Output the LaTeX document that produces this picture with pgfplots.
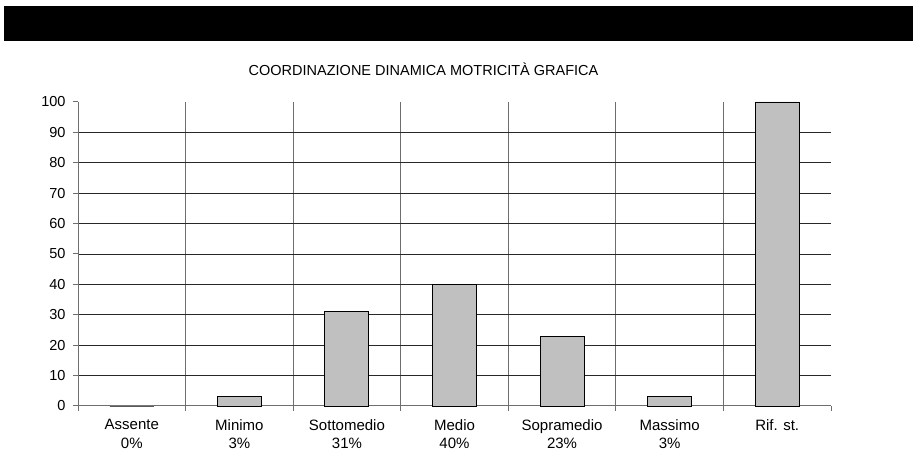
\documentclass[border=0pt]{standalone}
\usepackage{fontspec}
\setmainfont{Liberation Sans}
\usepackage{pgfplots}
\pgfplotsset{compat=1.18}
\definecolor{barfill}{RGB}{192,192,192}
\definecolor{vgrid}{RGB}{110,110,110}
\definecolor{hgrid}{RGB}{40,40,40}
\begin{document}
\begin{tikzpicture}[x=1pt,y=1pt]
\useasboundingbox (0,0) rectangle (913,454);
\fill[black] (4,413) rectangle (913,448);
\node[font=\fontsize{14.5}{17}\selectfont] at (423.5,385) {COORDINAZIONE DINAMICA MOTRICITÀ GRAFICA};
\begin{axis}[
  at={(78pt,48pt)}, anchor=south west,
  scale only axis, width=753pt, height=304pt,
  xmin=-0.5, xmax=6.5, ymin=0, ymax=100,
  axis x line=bottom, axis y line=left,
  axis line style={-, line width=1pt, vgrid},
  tick align=outside, major tick length=5pt,
  tick style={line width=1pt, vgrid},
  xtick={-0.5,0.5,1.5,2.5,3.5,4.5,5.5,6.5}, xticklabels={},
  minor xtick={0.5,1.5,2.5,3.5,4.5,5.5}, minor tick length=0pt,
  xminorgrids, minor grid style={line width=1.2pt, vgrid},
  extra x ticks={0,1,2,3,4,5,6},
  extra x tick labels={Assente\\0\%, Minimo\\3\%, Sottomedio\\31\%, Medio\\40\%, Sopramedio\\23\%, Massimo\\3\%, Rif. st.\\\strut},
  extra x tick style={major tick length=0pt, grid=none,
     tick label style={align=center, font=\fontsize{15}{18.5}\selectfont, yshift=-10pt}},
  ytick={10,20,30,40,50,60,70,80,90},
  extra y ticks={0,100}, extra y tick style={grid=none},
  ymajorgrids, major grid style={line width=0.9pt, hgrid},
  yticklabel style={font=\fontsize{14.5}{16}\selectfont, xshift=-4pt},
  /pgf/number format/assume math mode=true,
  clip=false,
]
\addplot[ybar, bar width=44pt, fill=barfill, draw=black, line width=0.9pt]
  coordinates {(0,0) (1,3) (2,31) (3,40) (4,23) (5,3) (6,100)};
\end{axis}
\end{tikzpicture}
\end{document}
